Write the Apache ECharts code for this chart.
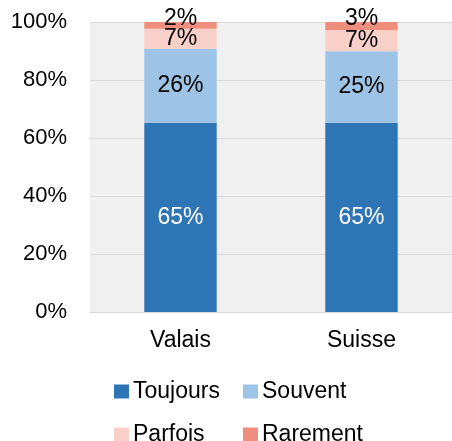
<!DOCTYPE html>
<html>
<head>
<meta charset="utf-8">
<script src="https://cdn.jsdelivr.net/npm/echarts@6/dist/echarts.min.js"></script>
<style>
  html, body { margin: 0; padding: 0; background: #fff; }
  #chart { width: 452px; height: 441px; }
</style>
</head>
<body>
<div id="chart"></div>
<script>
// donnees (%)
const categories = ['Valais', 'Suisse']
const toujours = [65.3, 65.3]
const souvent = [25.5, 24.6]
const parfois = [6.9, 7.3]
const rarement = [2.3, 2.8]
const yTicks = [0, 20, 40, 60, 80, 100]

const FONT = 'Liberation Sans, Arial, sans-serif'

function pct(p) {
  return Math.round(p.value) + '%'
}

function legendItem(name, left, top) {
  return {
    data: [name],
    left: left,
    top: top,
    orient: 'horizontal',
    icon: 'rect',
    itemWidth: 15,
    itemHeight: 14,
    itemGap: 0,
    padding: 0,
    textStyle: { fontFamily: FONT, fontSize: 23, color: '#000', padding: [0, 0, 0, -1] }
  }
}

const chart = echarts.init(document.getElementById('chart'))
const option = {
  animation: false,
  textStyle: { fontFamily: FONT },
  grid: {
    left: 90,
    right: 0,
    top: 22,
    bottom: 129,
    containLabel: false,
    show: true,
    backgroundColor: '#f0f0f0',
    borderWidth: 0
  },
  legend: [
    legendItem('Toujours', 114, 380),
    legendItem('Souvent', 243, 380),
    legendItem('Parfois', 114, 423),
    legendItem('Rarement', 243, 423)
  ],
  xAxis: {
    type: 'category',
    data: categories,
    axisTick: { show: false },
    axisLine: { lineStyle: { color: '#d9d9d9', width: 1 } },
    axisLabel: { fontFamily: FONT, fontSize: 23, color: '#000', margin: 17 }
  },
  yAxis: {
    type: 'value',
    min: yTicks[0],
    max: yTicks[yTicks.length - 1],
    interval: 20,
    axisLabel: { fontFamily: FONT, fontSize: 22, color: '#000', margin: 23, formatter: '{value}%' },
    splitLine: { lineStyle: { color: '#d9d9d9', width: 1 } },
    axisLine: { show: false },
    axisTick: { show: false }
  },
  series: [
    {
      name: 'Toujours',
      type: 'bar',
      stack: 'total',
      barWidth: '40%',
      data: toujours,
      itemStyle: { color: '#2e75b6' },
      label: { show: true, position: 'inside', formatter: pct, fontFamily: FONT, fontSize: 23, color: '#fff' }
    },
    {
      name: 'Souvent',
      type: 'bar',
      stack: 'total',
      data: souvent,
      itemStyle: { color: '#9dc3e6' },
      label: { show: true, position: 'inside', formatter: pct, fontFamily: FONT, fontSize: 23, color: '#000' }
    },
    {
      name: 'Parfois',
      type: 'bar',
      stack: 'total',
      data: parfois,
      itemStyle: { color: '#f9d0c8' },
      label: { show: true, position: 'inside', formatter: pct, fontFamily: FONT, fontSize: 23, color: '#000' }
    },
    {
      name: 'Rarement',
      type: 'bar',
      stack: 'total',
      data: rarement,
      itemStyle: { color: '#f08e7e' },
      // l'etiquette deborde au-dessus du segment comme dans excel
      label: { show: true, position: 'inside', offset: [0, -7], formatter: pct, fontFamily: FONT, fontSize: 23, color: '#000' }
    }
  ]
}
chart.setOption(option)
</script>
</body>
</html>
